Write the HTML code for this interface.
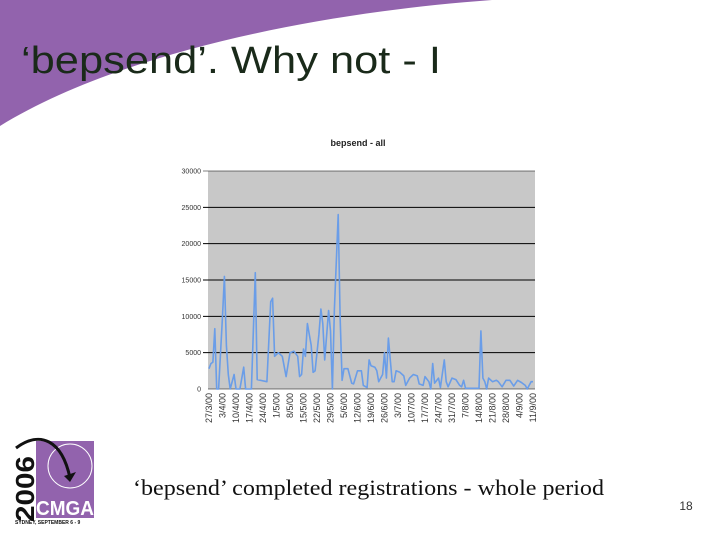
<!DOCTYPE html>
<html><head><meta charset="utf-8"><style>
body{margin:0;background:#fff}
svg{display:block}
</style></head><body>
<svg width="720" height="540" viewBox="0 0 720 540" xmlns="http://www.w3.org/2000/svg">
<path d="M0,0 L492,0 C300,14 110,58 0,126 Z" fill="#9263ad"/>
<text x="21" y="73" textLength="420" lengthAdjust="spacingAndGlyphs" font-family="Liberation Sans, sans-serif" font-size="38" fill="#1a2a1a">‘bepsend’. Why not - I</text>
<g id="chart">
<text x="358" y="146" text-anchor="middle" font-family="Liberation Sans, sans-serif" font-size="9" font-weight="bold" fill="#222">bepsend - all</text>
<rect x="208" y="171" width="327" height="218" fill="#c8c8c8"/>
<g id="grid"></g><g id="yt"></g><g id="xt"></g>
<path id="line" fill="none" stroke="#6a9de8" stroke-width="1.6" stroke-linejoin="round"/>
</g>
<text x="133" y="495" textLength="471" lengthAdjust="spacingAndGlyphs" font-family="Liberation Serif, serif" font-size="22" fill="#111">‘bepsend’ completed registrations - whole period</text>
<text x="686" y="510" text-anchor="middle" font-family="Liberation Sans, sans-serif" font-size="12" fill="#333">18</text>
<g>
<rect x="36" y="441" width="58" height="77" fill="#9263ad"/>
<circle cx="70" cy="466" r="22" fill="none" stroke="#fff" stroke-width="1"/>
<path d="M16,448 C40,430 62,440 70,478" fill="none" stroke="#111" stroke-width="3"/>
<path d="M64,476 L76,472 L70,482 Z" fill="#111"/>
<text x="0" y="0" transform="translate(34,522) rotate(-90)" textLength="66" lengthAdjust="spacingAndGlyphs" font-family="Liberation Sans, sans-serif" font-weight="bold" font-size="26" fill="#111">2006</text>
<text x="36" y="515" textLength="58" lengthAdjust="spacingAndGlyphs" font-family="Liberation Sans, sans-serif" font-weight="bold" font-size="20" fill="#fff">CMGA</text>
<text x="15" y="524" font-family="Liberation Sans, sans-serif" font-weight="bold" font-size="5" fill="#111">SYDNEY, SEPTEMBER 6 - 9</text>
</g>
</svg>
<script>
const days=[0,1,2,3,4,5,7,8,9,10,11,13,14,16,18,19,22,24,25,30,32,33,34,36,38,40,42,44,46,47,48,49,50,51,53,54,55,57,58,59,60,62,63,64,65,67,68,69,70,72,74,75,77,79,80,82,83,84,86,87,88,90,91,92,93,94,95,96,97,99,101,102,104,106,108,109,111,112,114,115,116,117,119,120,122,123,124,126,128,130,131,132,133,137,140,141,142,143,144,145,147,149,150,152,154,156,158,160,162,164,165,167,168];
const values=[2800,3500,3700,8300,0,0,10000,15500,6000,2000,0,2000,0,0,3000,0,0,16000,1300,1000,12000,12500,4500,5000,4500,1700,5000,5200,4500,1700,2000,5500,4500,9000,6000,2300,2500,7500,11000,9000,4000,10800,8000,0,11000,24000,10000,1200,2800,2800,800,700,2500,2500,500,200,4000,3200,3000,2500,1000,2000,5000,1500,7000,4000,1000,1000,2500,2300,1800,500,1500,2000,1800,700,500,1700,1000,0,3500,800,1500,200,4000,1000,300,1500,1300,500,300,1200,100,100,100,8000,1500,1000,0,1500,1000,1200,1000,300,1200,1200,400,1200,900,500,0,1000,1000];
const yTicks=[0,5000,10000,15000,20000,25000,30000];
const xLabels=["27/3/00","3/4/00","10/4/00","17/4/00","24/4/00","1/5/00","8/5/00","15/5/00","22/5/00","29/5/00","5/6/00","12/6/00","19/6/00","26/6/00","3/7/00","10/7/00","17/7/00","24/7/00","31/7/00","7/8/00","14/8/00","21/8/00","28/8/00","4/9/00","11/9/00"];
const NS='http://www.w3.org/2000/svg';
const X0=209,X1=533,Y0=389,Y1=171;
const xs=d=>X0+(X1-X0)*d/168;
const ys=v=>Y0-(Y0-Y1)*v/30000;
const grid=document.getElementById('grid'),yt=document.getElementById('yt'),xt=document.getElementById('xt');
yTicks.forEach(t=>{
 const l=document.createElementNS(NS,'line');
 l.setAttribute('x1',t===0?208:203);l.setAttribute('x2',535);l.setAttribute('y1',ys(t));l.setAttribute('y2',ys(t));
 l.setAttribute('stroke','#000');l.setAttribute('stroke-width',t===0||t===30000?0.6:1);
 
 
 grid.appendChild(l);
 const tx=document.createElementNS(NS,'text');
 tx.setAttribute('x',201);tx.setAttribute('y',ys(t)+2.5);tx.setAttribute('text-anchor','end');
 tx.setAttribute('font-family','Liberation Sans, sans-serif');tx.setAttribute('font-size','7');tx.setAttribute('fill','#333');
 tx.textContent=t;
 
 
 yt.appendChild(tx);
});
xLabels.forEach((s,i)=>{
 const x=xs(i*7);
 const tx=document.createElementNS(NS,'text');
 tx.setAttribute('transform','translate('+(x+3)+',393) rotate(-90)');
 tx.setAttribute('text-anchor','end');
 tx.setAttribute('font-family','Liberation Sans, sans-serif');tx.setAttribute('font-size','9');tx.setAttribute('fill','#333');
 tx.textContent=s;
 
 
 xt.appendChild(tx);
});
document.getElementById('line').setAttribute('d',days.map((d,i)=>(i?'L':'M')+xs(d).toFixed(1)+','+ys(values[i]).toFixed(1)).join(' '));
</script>
</body></html>
